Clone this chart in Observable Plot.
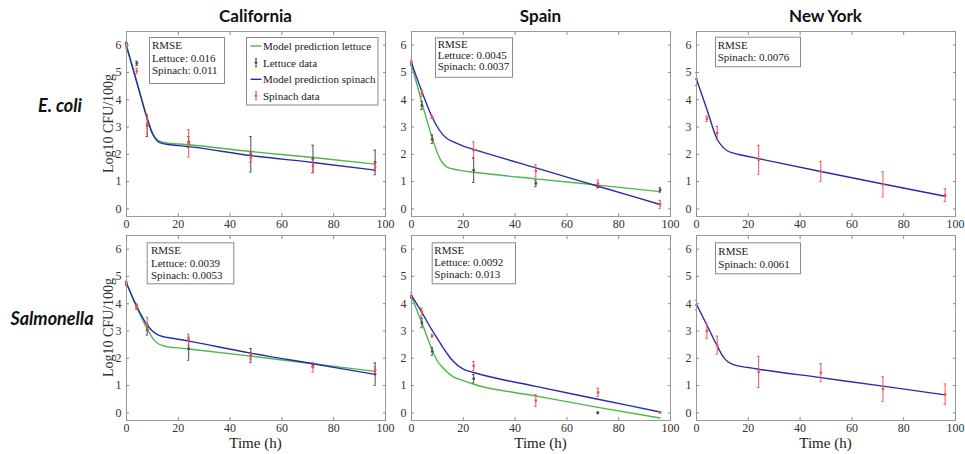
<!DOCTYPE html>
<html><head><meta charset="utf-8">
<script src="https://cdn.jsdelivr.net/npm/d3@7"></script>
<script src="https://cdn.jsdelivr.net/npm/@observablehq/plot@0.6"></script>
<style>
body{margin:0;background:#fff;}
#root{position:relative;width:965px;height:454px;overflow:hidden;background:#fff;}
#root > svg{position:absolute;}
</style></head>
<body><div id="root"></div>
<script>
// ---------- data ----------
const columns = ["California", "Spain", "New York"];
const rows = ["E. coli", "Salmonella"];
const xTicks = [0, 20, 40, 60, 80, 100];
const yTicks = [0, 1, 2, 3, 4, 5, 6];
const times = [0, 4, 8, 24, 48, 72, 96];
const modelTimes = [0, 4, 8, 10, 12, 14, 16, 20, 24, 48, 72, 96];

// E. coli – California
const ecCA_lettuceMean = [6.06, 5.33, 3.05, 2.45, 2.0, 1.83, 1.7];
const ecCA_lettuceErr  = [0.05, 0.08, 0.4, 0.2, 0.65, 0.5, 0.45];
const ecCA_spinachMean = [5.95, 5.05, 3.1, 2.4, 1.88, 1.57, 1.53];
const ecCA_spinachErr  = [0.06, 0.1, 0.35, 0.5, 0.18, 0.25, 0.15];
const ecCA_lettuceModel = [6.0, 4.67, 3.33, 2.8, 2.52, 2.44, 2.41, 2.38, 2.35, 2.1, 1.88, 1.64];
const ecCA_spinachModel = [5.95, 4.62, 3.3, 2.75, 2.48, 2.39, 2.36, 2.32, 2.28, 1.95, 1.7, 1.42];
const ecCA_rmse = ["RMSE", "Lettuce: 0.016", "Spinach: 0.011"];

// E. coli – Spain
const ecES_lettuceMean = [5.31, 3.79, 2.55, 1.42, 0.93, 0.81, 0.69];
const ecES_lettuceErr  = [0.05, 0.15, 0.16, 0.45, 0.12, 0.04, 0.08];
const ecES_spinachMean = [5.39, 4.24, 3.36, 2.15, 1.39, 0.93, 0.16];
const ecES_spinachErr  = [0.06, 0.12, 0.05, 0.3, 0.22, 0.12, 0.15];
const ecES_lettuceModel = [5.3, 3.9, 2.6, 2.05, 1.68, 1.52, 1.46, 1.39, 1.34, 1.1, 0.87, 0.63];
const ecES_spinachModel = [5.35, 4.3, 3.36, 3.0, 2.73, 2.56, 2.46, 2.3, 2.18, 1.5, 0.83, 0.16];
const ecES_rmse = ["RMSE", "Lettuce: 0.0045", "Spinach: 0.0037"];

// E. coli – New York
const ecNY_spinachMean = [4.75, 3.3, 2.78, 1.8, 1.37, 0.9, 0.5];
const ecNY_spinachErr  = [0.23, 0.1, 0.24, 0.53, 0.37, 0.46, 0.23];
const ecNY_spinachModel = [4.75, 3.65, 2.55, 2.28, 2.12, 2.05, 2.0, 1.92, 1.84, 1.37, 0.91, 0.46];
const ecNY_rmse = ["RMSE", "Spinach: 0.0076"];

// Salmonella – California
const saCA_lettuceMean = [4.75, 3.9, 3.05, 2.35, 2.1, 1.75, 1.42];
const saCA_lettuceErr  = [0.05, 0.08, 0.2, 0.42, 0.26, 0.05, 0.41];
const saCA_spinachMean = [4.75, 3.88, 3.25, 2.68, 2.07, 1.67, 1.57];
const saCA_spinachErr  = [0.08, 0.1, 0.25, 0.2, 0.1, 0.18, 0.12];
const saCA_lettuceModel = [4.75, 3.85, 3.08, 2.75, 2.55, 2.47, 2.42, 2.38, 2.34, 2.08, 1.8, 1.52];
const saCA_spinachModel = [4.75, 3.9, 3.22, 3.0, 2.87, 2.8, 2.76, 2.7, 2.63, 2.19, 1.8, 1.41];
const saCA_rmse = ["RMSE", "Lettuce: 0.0039", "Spinach: 0.0053"];

// Salmonella – Spain
const saES_lettuceTimes = [0, 4, 8, 24, 72];
const saES_lettuceMean = [4.25, 3.3, 2.25, 1.25, 0.0];
const saES_lettuceErr  = [0.05, 0.18, 0.14, 0.15, 0.03];
const saES_spinachMean = [4.3, 3.7, 2.82, 1.72, 0.45, 0.75, 0.02];
const saES_spinachErr  = [0.1, 0.14, 0.05, 0.16, 0.22, 0.15, 0.03];
const saES_lettuceModel = [4.25, 3.3, 2.3, 1.9, 1.66, 1.48, 1.33, 1.18, 1.05, 0.62, 0.2, -0.19];
const saES_spinachModel = [4.3, 3.68, 3.02, 2.72, 2.42, 2.14, 1.9, 1.6, 1.48, 0.97, 0.5, 0.03];
const saES_rmse = ["RMSE", "Lettuce: 0.0092", "Spinach: 0.013"];

// Salmonella – New York
const saNY_spinachMean = [3.95, 3.0, 2.48, 1.5, 1.47, 0.87, 0.68];
const saNY_spinachErr  = [0.18, 0.28, 0.33, 0.57, 0.33, 0.45, 0.38];
const saNY_spinachModel = [3.98, 3.22, 2.45, 2.1, 1.88, 1.78, 1.72, 1.66, 1.6, 1.29, 0.98, 0.66];
const saNY_rmse = ["RMSE", "Spinach: 0.0061"];

const legendLabels = ["Model prediction lettuce", "Lettuce data", "Model prediction spinach", "Spinach data"];

// ---------- styling ----------
const GREEN = "#4cb84c", BLUE = "#2b2ba8", RED = "#ef5555", DARK = "#4d4d4d";
const SERIF = "'Liberation Serif','Times New Roman',serif";
const colLeft = [126, 411, 696], rowTop = [31, 235], FW = 259, FH = 185;
const ML = 30, MR = 10, MT = 8, MB = 22;

const pts = (ts, ms, es) => ts.map((t, i) => ({t, m: ms[i], e: es[i]}));
const curve = (vs) => modelTimes.map((t, i) => ({t, v: vs[i]}));

function errMarks(data, color) {
  if (!data) return [];
  return [
    Plot.ruleX(data, {x: "t", y1: d => d.m - d.e, y2: d => d.m + d.e, stroke: color, strokeWidth: 1}),
    Plot.ruleY(data, {y: d => d.m + d.e, x1: d => d.t - 0.45, x2: d => d.t + 0.45, stroke: color, strokeWidth: 1}),
    Plot.ruleY(data, {y: d => d.m - d.e, x1: d => d.t - 0.45, x2: d => d.t + 0.45, stroke: color, strokeWidth: 1}),
    Plot.dot(data, {x: "t", y: "m", r: 1.4, fill: color, stroke: "none"})
  ];
}

function panel(p) {
  return Plot.plot({
    width: ML + FW + MR, height: MT + FH + MB,
    marginLeft: ML, marginRight: MR, marginTop: MT, marginBottom: MB,
    x: {domain: [0, 100], axis: null},
    y: {domain: [-0.28, 6.5], axis: null},
    style: {fontFamily: SERIF, fontSize: "12px", background: "transparent", overflow: "visible"},
    marks: [
      p.lettuceModel ? Plot.line(p.lettuceModel, {x: "t", y: "v", stroke: GREEN, strokeWidth: 1.4, curve: "monotone-x"}) : null,
      ...errMarks(p.lettuce, DARK),
      Plot.line(p.spinachModel, {x: "t", y: "v", stroke: BLUE, strokeWidth: 1.4, curve: "monotone-x"}),
      ...errMarks(p.spinach, RED),
      Plot.frame({stroke: "#9a9a9a"}),
      Plot.axisX(xTicks, {anchor: "bottom", tickSize: -3, tickPadding: 6, stroke: "#8a8a8a", fill: "#333", label: null}),
      Plot.axisX(xTicks, {anchor: "top", tickSize: -3, stroke: "#8a8a8a", fill: "none", label: null}),
      Plot.axisY(yTicks, {anchor: "left", tickSize: -3, tickPadding: 8, stroke: "#8a8a8a", fill: "#333", label: null}),
      Plot.axisY(yTicks, {anchor: "right", tickSize: -3, stroke: "#8a8a8a", fill: "none", label: null})
    ]
  });
}

const panels = [
  {r: 0, c: 0, lettuce: pts(times, ecCA_lettuceMean, ecCA_lettuceErr), spinach: pts(times, ecCA_spinachMean, ecCA_spinachErr),
   lettuceModel: curve(ecCA_lettuceModel), spinachModel: curve(ecCA_spinachModel)},
  {r: 0, c: 1, lettuce: pts(times, ecES_lettuceMean, ecES_lettuceErr), spinach: pts(times, ecES_spinachMean, ecES_spinachErr),
   lettuceModel: curve(ecES_lettuceModel), spinachModel: curve(ecES_spinachModel)},
  {r: 0, c: 2, spinach: pts(times, ecNY_spinachMean, ecNY_spinachErr), spinachModel: curve(ecNY_spinachModel)},
  {r: 1, c: 0, lettuce: pts(times, saCA_lettuceMean, saCA_lettuceErr), spinach: pts(times, saCA_spinachMean, saCA_spinachErr),
   lettuceModel: curve(saCA_lettuceModel), spinachModel: curve(saCA_spinachModel)},
  {r: 1, c: 1, lettuce: pts(saES_lettuceTimes, saES_lettuceMean, saES_lettuceErr), spinach: pts(times, saES_spinachMean, saES_spinachErr),
   lettuceModel: curve(saES_lettuceModel), spinachModel: curve(saES_spinachModel)},
  {r: 1, c: 2, spinach: pts(times, saNY_spinachMean, saNY_spinachErr), spinachModel: curve(saNY_spinachModel)}
];

const root = document.getElementById("root");
for (const p of panels) {
  const svg = panel(p);
  svg.style.left = (colLeft[p.c] - ML) + "px";
  svg.style.top = (rowTop[p.r] - MT) + "px";
  root.appendChild(svg);
}

// ---------- annotation overlay ----------
const NS = "http://www.w3.org/2000/svg";
const ov = document.createElementNS(NS, "svg");
ov.setAttribute("width", 965); ov.setAttribute("height", 454);
ov.style.left = "0px"; ov.style.top = "0px";
root.appendChild(ov);
function el(tag, attrs, text) {
  const e = document.createElementNS(NS, tag);
  for (const k in attrs) e.setAttribute(k, attrs[k]);
  if (text != null) e.textContent = text;
  ov.appendChild(e);
  return e;
}

// column titles
columns.forEach((t, c) => el("text", {x: colLeft[c] + FW / 2, y: 22, "text-anchor": "middle",
  "font-family": "Lato, sans-serif", "font-weight": 700, "font-size": 17, fill: "#111"}, t));
// row labels
const rowLabelX = [60, 52], rowLabelY = [112, 325];
rows.forEach((t, r) => el("text", {x: rowLabelX[r], y: rowLabelY[r], "text-anchor": "middle",
  "font-family": "Lato, sans-serif", "font-weight": 700, "font-style": "italic", "font-size": 18, fill: "#111"}, t));
// y-axis labels
rows.forEach((t, r) => {
  const cy = rowTop[r] + FH / 2;
  el("text", {x: 0, y: 0, transform: `translate(113,${cy}) rotate(-90)`, "text-anchor": "middle",
    "font-family": SERIF, "font-size": 14, fill: "#333"}, "Log10 CFU/100g");
});
// x-axis labels
columns.forEach((t, c) => el("text", {x: colLeft[c] + FW / 2, y: 448, "text-anchor": "middle",
  "font-family": SERIF, "font-size": 15, fill: "#222"}, "Time (h)"));

// RMSE boxes
const rmseBoxes = [
  {lines: ecCA_rmse, x: 149, y: 37, w: 75, h: 46, tx: 152, base: [49.3, 61.7, 74]},
  {lines: ecES_rmse, x: 435, y: 37.3, w: 77, h: 39.5, tx: 437.7, base: [48.3, 59.3, 70]},
  {lines: ecNY_rmse, x: 715, y: 36.7, w: 85, h: 29.5, tx: 717.7, base: [49, 60.7]},
  {lines: saCA_rmse, x: 146.7, y: 242.3, w: 86.6, h: 41, tx: 151, base: [254, 266.5, 279]},
  {lines: saES_rmse, x: 431.7, y: 242.3, w: 83.3, h: 41, tx: 434.3, base: [254, 266.2, 278.3]},
  {lines: saNY_rmse, x: 715, y: 242.3, w: 85, h: 31, tx: 718.3, base: [255, 268]}
];
for (const b of rmseBoxes) {
  el("rect", {x: b.x + 0.5, y: b.y + 0.5, width: b.w, height: b.h, fill: "#fff", stroke: "#8a8a8a", "stroke-width": 1});
  b.lines.forEach((s, i) => el("text", {x: b.tx, y: b.base[i], "font-family": SERIF, "font-size": 11, fill: "#222"}, s));
}

// legend (California E. coli panel)
el("rect", {x: 246.5, y: 37.5, width: 131.5, height: 67.5, fill: "#fff", stroke: "#8a8a8a", "stroke-width": 1});
const legY = [46, 62.7, 79.3, 95.7];
const legKind = ["line", "err", "line", "err"];
const legColor = [GREEN, DARK, BLUE, RED];
legendLabels.forEach((s, i) => {
  const cy = legY[i];
  if (legKind[i] === "line") {
    el("line", {x1: 250.5, x2: 261.5, y1: cy, y2: cy, stroke: legColor[i], "stroke-width": 1.4});
  } else {
    el("line", {x1: 256, x2: 256, y1: cy - 4, y2: cy + 4, stroke: legColor[i], "stroke-width": 1});
    el("line", {x1: 255, x2: 257, y1: cy - 4, y2: cy - 4, stroke: legColor[i], "stroke-width": 1});
    el("line", {x1: 255, x2: 257, y1: cy + 4, y2: cy + 4, stroke: legColor[i], "stroke-width": 1});
    el("circle", {cx: 256, cy: cy, r: 1.4, fill: legColor[i]});
  }
  el("text", {x: 263, y: cy + 4, "font-family": SERIF, "font-size": 11, fill: "#222"}, s);
});
</script>
</body></html>
